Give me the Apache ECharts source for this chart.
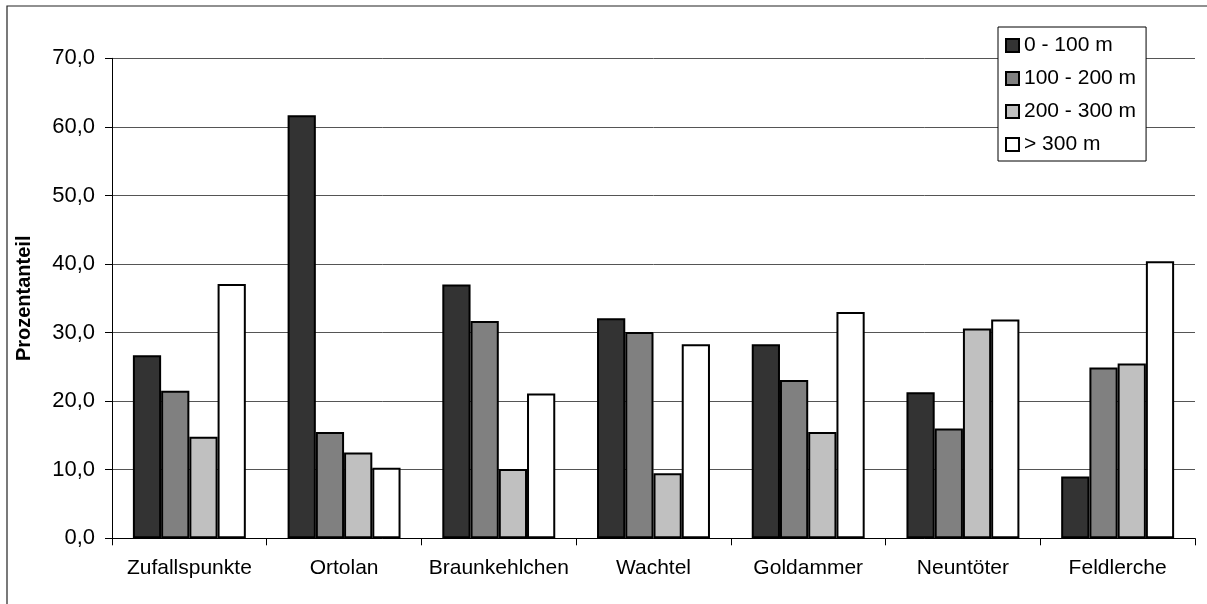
<!DOCTYPE html>
<html>
<head>
<meta charset="utf-8">
<script src="https://cdn.jsdelivr.net/npm/echarts@6/dist/echarts.min.js"></script>
<style>
  html, body { margin: 0; padding: 0; background: #fff; }
  #chart { width: 1207px; height: 604px; }
</style>
</head>
<body>
<div id="chart"></div>
<script>
// Kategorien (Arten und Zufallspunkte)
const categories = ['Zufallspunkte', 'Ortolan', 'Braunkehlchen', 'Wachtel', 'Goldammer', 'Neuntöter', 'Feldlerche'];

// Anteile je Entfernungsklasse (%)
const seriesNames = ['0 - 100 m', '100 - 200 m', '200 - 300 m', '> 300 m'];
const d0_100   = [26.7, 61.7, 37.0, 32.1, 28.3, 21.3, 9.0];
const d100_200 = [21.5, 15.5, 31.7, 30.1, 23.1, 16.0, 24.9];
const d200_300 = [14.8, 12.5, 10.1, 9.5, 15.5, 30.6, 25.5];
const d300plus = [37.1, 10.3, 21.1, 28.3, 33.0, 31.9, 40.4];

const yTicks = [0, 10, 20, 30, 40, 50, 60, 70];

const fills = ['#333333', '#808080', '#c0c0c0', '#ffffff'];
const values = [d0_100, d100_200, d200_300, d300plus];

const chart = echarts.init(document.getElementById('chart'));

chart.setOption({
  backgroundColor: '#ffffff',
  animation: false,
  textStyle: { fontFamily: 'Liberation Sans, Arial, sans-serif', color: '#000' },
  graphic: [{
    type: 'rect',
    shape: { x: 7, y: 6, width: 1260, height: 700 },
    style: { fill: 'none', stroke: '#222', lineWidth: 1.2 },
    silent: true,
    z: -1
  }],
  grid: { left: 112, right: 12, top: 58.3, bottom: 65.7, containLabel: false },
  legend: {
    orient: 'vertical',
    left: 998,
    top: 27,
    padding: [8, 10, 6, 7],
    icon: 'rect',
    itemWidth: 13,
    itemHeight: 13,
    itemGap: 12,
    itemTextGap: 6,
    backgroundColor: '#fff',
    borderColor: '#000',
    borderWidth: 1,
    borderRadius: 0,
    data: seriesNames,
    textStyle: { fontSize: 21, lineHeight: 21, color: '#000', fontFamily: 'Liberation Sans, Arial, sans-serif' }
  },
  xAxis: {
    type: 'category',
    data: categories,
    axisLine: { lineStyle: { color: '#000', width: 1 } },
    axisTick: { show: true, length: 7, lineStyle: { color: '#000' } },
    axisLabel: { fontSize: 21, margin: 19, color: '#000', interval: 0 }
  },
  yAxis: {
    type: 'value',
    min: yTicks[0],
    max: yTicks[yTicks.length - 1],
    interval: 10,
    name: 'Prozentanteil',
    nameLocation: 'middle',
    nameRotate: 90,
    nameGap: 78,
    nameTextStyle: { fontSize: 20, fontWeight: 'bold', color: '#000' },
    axisLine: { show: true, lineStyle: { color: '#000', width: 1 } },
    axisTick: { show: true, length: 7, lineStyle: { color: '#000' } },
    axisLabel: {
      fontSize: 22, margin: 17, color: '#000',
      formatter: v => v.toFixed(1).replace('.', ',')
    },
    splitLine: { show: true, lineStyle: { color: '#555', width: 1 } }
  },
  series: seriesNames.map((name, i) => ({
    name,
    type: 'bar',
    data: values[i],
    barGap: '0%',
    barCategoryGap: '27%',
    itemStyle: { color: fills[i], borderColor: '#000', borderWidth: 2 }
  }))
});
</script>
</body>
</html>
